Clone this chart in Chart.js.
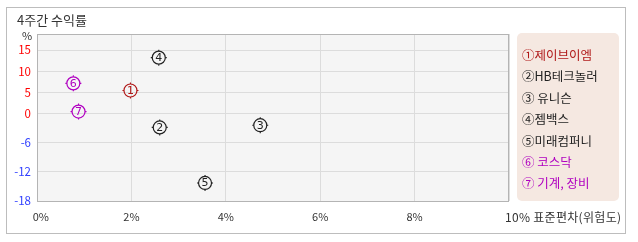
<!DOCTYPE html>
<html><head><meta charset="utf-8">
<script src="https://cdn.jsdelivr.net/npm/chart.js@4"></script>
<style>
html,body{margin:0;padding:0;background:#fff;}
#wrap{position:relative;width:638px;height:242px;font-family:"Noto Sans CJK KR","Noto Sans",sans-serif;}
#frame{position:absolute;left:6px;top:7px;width:620px;height:227px;border:1px solid #bdbdbd;box-sizing:border-box;}
#title{position:absolute;left:17px;top:10px;font-size:13px;color:#333;}
#pct{position:absolute;left:22px;top:27px;font-size:11px;color:#333;}
#xtitle{position:absolute;left:505px;top:208px;font-size:12px;color:#333;white-space:nowrap;letter-spacing:0.3px;}
#legend{position:absolute;left:517px;top:33px;width:102px;height:168px;background:#f5e8e1;border-radius:5px;}
#legend div{position:absolute;left:5px;font-size:12.5px;white-space:nowrap;line-height:16px;}
canvas{position:absolute;left:0;top:0;}
</style></head>
<body><div id="wrap"><div id="frame"></div>
<canvas id="c" width="638" height="242"></canvas>
<div id="title">4주간 수익률</div>
<div id="pct">%</div>
<div id="xtitle">10% 표준편차(위험도)</div>
<div id="legend"></div>
</div>
<script>
const names = ['제이브이엠','HB테크놀러','유니슨','젬백스','미래컴퍼니','코스닥','기계, 장비'];
const marks = ['①','②','③','④','⑤','⑥','⑦'];
const digits = ['1','2','3','4','5','6','7'];
const risk = [1.98, 2.6, 4.73, 2.58, 3.56, 0.77, 0.88];
const ret = [5.4, -2.9, -2.45, 13.2, -14.3, 7.1, 0.4];
const colors = ['#b01818','#222','#222','#222','#222','#b000c0','#b000c0'];
const yTicks = [15, 10, 5, 0, -6, -12, -18];
const xTicks = [0, 2, 4, 6, 8, 10];

// piecewise axis: positive and negative halves use different scales (as in the reference)
const POS = 4.2, NEG = 4.856;
const toD = v => v >= 0 ? v * POS : v * NEG;

const leg = document.getElementById('legend');
names.forEach((n,i)=>{
  const d=document.createElement('div');
  d.style.top=(14+i*21.4)+'px';
  d.style.color=colors[i];
  d.textContent=marks[i]+(i===2||i>=5?' ':'')+n;
  leg.appendChild(d);
});

const markPlugin = {
  id:'marks',
  beforeDraw(chart){
    const {ctx, chartArea:a} = chart;
    ctx.save(); ctx.fillStyle='#f5f5f5';
    ctx.fillRect(a.left,a.top,a.right-a.left,a.bottom-a.top); ctx.restore();
  },
  afterDatasetsDraw(chart){
    const {ctx, chartArea:a} = chart;
    ctx.save();
    ctx.strokeStyle='#b4b4b4'; ctx.lineWidth=1;
    ctx.strokeRect(a.left+0.5,a.top+0.5,a.right-a.left-1,a.bottom-a.top);
    const meta = chart.getDatasetMeta(0);
    meta.data.forEach((p,i)=>{
      const x=p.x, y=p.y, r=6.5;
      ctx.strokeStyle=colors[i]; ctx.lineWidth=1.1;
      ctx.beginPath();
      ctx.moveTo(x,y-r); ctx.lineTo(x,y-r-1.5);
      ctx.moveTo(x,y+r); ctx.lineTo(x,y+r+1.5);
      ctx.moveTo(x-r,y); ctx.lineTo(x-r-1.5,y);
      ctx.moveTo(x+r,y); ctx.lineTo(x+r+1.5,y);
      ctx.stroke();
      ctx.fillStyle=colors[i];
      ctx.font='11px "DejaVu Sans", sans-serif';
      ctx.textAlign='center'; ctx.textBaseline='middle';
      ctx.fillText(digits[i], x, y+0.5);
    });
    ctx.restore();
  }
};

new Chart(document.getElementById('c'), {
  type:'scatter',
  data:{datasets:[{
    data: risk.map((x,i)=>({x:x, y:toD(ret[i])})),
    pointRadius:6.5, pointHoverRadius:6.5,
    pointBorderWidth:1.2,
    pointBorderColor:colors,
    pointBackgroundColor:'rgba(0,0,0,0)'
  }]},
  options:{
    responsive:false, animation:false,
    layout:{padding:{left:0,top:34,right:129,bottom:0}},
    plugins:{legend:{display:false},tooltip:{enabled:false}},
    scales:{
      x:{type:'linear',min:0,max:10,
        afterBuildTicks(s){ s.ticks = xTicks.map(v=>({value:v})); },
        afterFit(s){ s.height=41; },
        grid:{color:'#dcdcdc',drawTicks:false},
        border:{display:false},
        ticks:{padding:9,color:'#333',font:{size:11,family:'"Noto Sans CJK KR", sans-serif'},
          maxRotation:0, autoSkip:false,
          callback:(v)=> v===10 ? '' : (v===0 ? '\u2002\u2009' + v + '%' : v+'%')}
      },
      y:{type:'linear',min:toD(-18),max:79,
        afterBuildTicks(s){ s.ticks = yTicks.map(v=>({value:toD(v)})); },
        afterFit(s){ s.width=37; },
        grid:{color:'#dcdcdc',drawTicks:false},
        border:{display:false},
        ticks:{padding:6,autoSkip:false,font:{size:11.5,family:'"Noto Sans CJK KR", sans-serif'},
          color:(c)=> c.tick && c.tick.value < -0.01 ? '#3040ff' : '#ff0000',
          callback:(v,i)=> String(yTicks[i])}
      }
    }
  },
  plugins:[markPlugin]
});
</script></body></html>
